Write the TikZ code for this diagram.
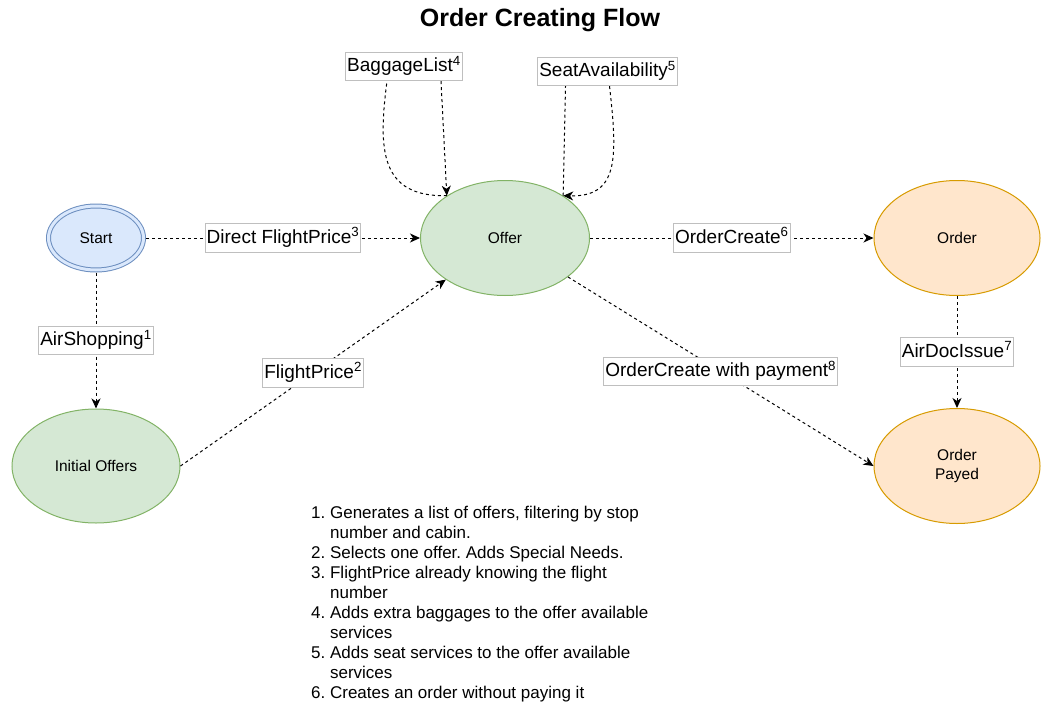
\documentclass[tikz,border=0pt]{standalone}
\usepackage{fontspec}
\setmainfont{Liberation Sans}
\usetikzlibrary{positioning,shapes.geometric,arrows.meta}
\frenchspacing

\definecolor{startfill}{HTML}{DAE8FC}
\definecolor{startline}{HTML}{6C8EBF}
\definecolor{offerfill}{HTML}{D5E8D4}
\definecolor{offerline}{HTML}{82B366}
\definecolor{orderfill}{HTML}{FFE6CC}
\definecolor{orderline}{HTML}{D79B00}

\begin{document}
\begin{tikzpicture}[
  x=1pt, y=-1pt,
  state/.style={ellipse, inner sep=0pt, line width=1pt, align=center,
    font=\fontsize{15.5}{19}\selectfont},
  offerstate/.style={state, draw=offerline, fill=offerfill,
    minimum width=169pt, minimum height=115pt},
  orderstate/.style={state, draw=orderline, fill=orderfill,
    minimum width=166pt, minimum height=115pt},
  link/.style={line width=1pt, dash pattern=on 3pt off 3pt,
    -{Stealth[length=10pt,width=9pt,inset=3pt]}},
  msg/.style={solid, draw=black!25, fill=white, line width=0.8pt,
    inner xsep=1.5pt, inner ysep=4.5pt, text height=15pt, text depth=4.5pt,
    font=\fontsize{19}{22}\selectfont}
]
  \useasboundingbox (0,0) rectangle (1041,704);

  \node (title) [font=\fontsize{25}{30}\selectfont\bfseries] at (540,20) {Order Creating Flow};

  \node (start) [state, draw=startline, fill=startfill, double=startfill,
    double distance=3pt, outer sep=2.5pt, minimum width=95pt, minimum height=64pt] at (96,238) {Start};
  \node (init) [offerstate, minimum width=168pt, minimum height=114pt, below=136pt of start] {Initial Offers};
  \node (offer) [offerstate] at (505,238) {Offer};
  \node (order) [orderstate] at (957,238) {Order};
  \node (payed) [orderstate, below=112pt of order] {Order\\Payed};

  \node (bl) [msg] at (404,66.5) {BaggageList\textsuperscript{4}};
  \node (sa) [msg] at (607.5,71.5) {SeatAvailability\textsuperscript{5}};

  \draw[link] (start) -- node[msg] {Direct FlightPrice\textsuperscript{3}} (offer);
  \draw[link] (start) -- node[msg] {AirShopping\textsuperscript{1}} (init);
  \draw[link] (init.east) -- node[msg] {FlightPrice\textsuperscript{2}} (offer);
  \draw[link] (offer) -- node[msg] {OrderCreate\textsuperscript{6}} (order);
  \draw[link] (order) -- node[msg] {AirDocIssue\textsuperscript{7}} (payed);
  \draw[link] (offer) -- node[msg] {OrderCreate with payment\textsuperscript{8}} (payed.west);

  % self loops on the offer
  \draw[link] (offer.144) .. controls (380,197) and (378,150) .. ([xshift=-17pt]bl.south)
    ([xshift=37pt]bl.south) -- (offer.144);
  \draw[link] (offer.36) -- ([xshift=-42pt]sa.south)
    ([xshift=2pt]sa.south) .. controls (618,160) and (618,197) .. (offer.36);

  \node (notes) [anchor=north west, inner sep=0pt, font=\fontsize{17}{20}\selectfont] at (311,504) {%
    \begin{tabular}{@{}r@{\ }l@{}}
      1. & Generates a list of offers, filtering by stop\\
         & number and cabin.\\
      2. & Selects one offer. Adds Special Needs.\\
      3. & FlightPrice already knowing the flight\\
         & number\\
      4. & Adds extra baggages to the offer available\\
         & services\\
      5. & Adds seat services to the offer available\\
         & services\\
      6. & Creates an order without paying it
    \end{tabular}};
\end{tikzpicture}
\end{document}
